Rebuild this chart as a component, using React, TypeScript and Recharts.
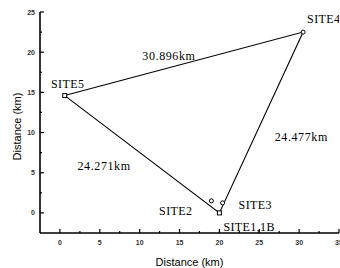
import { ScatterChart, Scatter, XAxis, YAxis, Label } from 'recharts';

const siteNames = ['SITE5', 'SITE4', 'SITE1,1B', 'SITE2', 'SITE3'];
const siteX = [0.6, 30.5, 20, 19, 20.4];
const siteY = [14.6, 22.5, 0, 1.5, 1.25];
const siteMarks = ['square', 'circle', 'square', 'circle', 'circle'];

// triangle SITE5 -> SITE4 -> SITE1 -> SITE5
const loopOrder = [0, 1, 2, 0];
const edgeLabels = ['30.896km', '24.477km', '24.271km'];

const xTicks = [0, 2.5, 5, 7.5, 10, 12.5, 15, 17.5, 20, 22.5, 25, 27.5, 30, 32.5, 35];
const yTicks = [0, 2.5, 5, 7.5, 10, 12.5, 15, 17.5, 20, 22.5, 25];

const sites = siteNames.map((name, i) => ({ name, x: siteX[i], y: siteY[i], mark: siteMarks[i] }));
const loop = loopOrder.map((i) => ({ x: siteX[i], y: siteY[i] }));
const edges = edgeLabels.map((text, i) => {
  const a = loopOrder[i];
  const b = loopOrder[i + 1];
  return { text, x: (siteX[a] + siteX[b]) / 2, y: (siteY[a] + siteY[b]) / 2 };
});

// pixel offsets of the text from its anchor
const siteLabelPos: Record<string, { dx: number; dy: number; anchor: string }> = {
  SITE5: { dx: 3, dy: -12, anchor: 'middle' },
  SITE4: { dx: 4, dy: -13, anchor: 'start' },
  'SITE1,1B': { dx: 4, dy: 14, anchor: 'start' },
  SITE2: { dx: -19, dy: 10, anchor: 'end' },
  SITE3: { dx: 16, dy: 2, anchor: 'start' },
};
const edgeLabelPos: Record<string, { dx: number; dy: number }> = {
  '30.896km': { dx: -15, dy: -8 },
  '24.477km': { dx: 40, dy: 14 },
  '24.271km': { dx: -38, dy: 12 },
};

const serif = '"Liberation Serif", "DejaVu Serif", serif';
const sans = '"Liberation Sans", Arial, sans-serif';

const SiteShape = (props: any) => {
  const { cx, cy, payload } = props;
  const pos = siteLabelPos[payload.name];
  return (
    <g>
      {payload.mark === 'square' ? (
        <rect x={cx - 2} y={cy - 2} width={4} height={4} fill="#fff" stroke="#000" strokeWidth={1} />
      ) : (
        <circle cx={cx} cy={cy} r={2} fill="#fff" stroke="#000" strokeWidth={1} />
      )}
      <text
        x={cx + pos.dx}
        y={cy + pos.dy}
        textAnchor={pos.anchor as any}
        dominantBaseline="central"
        fontFamily={serif}
        fontSize={12}
        letterSpacing={0.4}
        fill="#000"
      >
        {payload.name}
      </text>
    </g>
  );
};

const EdgeText = (props: any) => {
  const { cx, cy, payload } = props;
  const pos = edgeLabelPos[payload.text];
  return (
    <text
      x={cx + pos.dx}
      y={cy + pos.dy}
      textAnchor="middle"
      dominantBaseline="central"
      fontFamily={serif}
      fontSize={12}
      letterSpacing={0.6}
      fill="#000"
    >
      {payload.text}
    </text>
  );
};

const XTick = (props: any) => {
  const { x, y, payload } = props;
  const major = payload.value % 5 === 0;
  return (
    <g>
      <line x1={x} y1={y} x2={x} y2={y - (major ? 4 : 2)} stroke="#000" strokeWidth={1.2} />
      {major && (
        <text x={x} y={y + 9} textAnchor="middle" dominantBaseline="central" fontFamily={sans} fontSize={7} fontWeight="bold" fill="#333">
          {payload.value}
        </text>
      )}
    </g>
  );
};

const YTick = (props: any) => {
  const { x, y, payload } = props;
  const major = payload.value % 5 === 0;
  return (
    <g>
      <line x1={x} y1={y} x2={x + (major ? 4 : 2)} y2={y} stroke="#000" strokeWidth={1.2} />
      {major && (
        <text x={x - 5} y={y} textAnchor="end" dominantBaseline="central" fontFamily={sans} fontSize={7} fontWeight="bold" fill="#333">
          {payload.value}
        </text>
      )}
    </g>
  );
};

const Empty = () => <g />;

export default function App() {
  return (
    <div style={{ position: 'absolute', left: 0, top: 0, background: '#fff' }}>
      <ScatterChart width={340} height={268} margin={{ top: 12, right: 1, bottom: 0, left: 0 }}>
        <XAxis
          type="number"
          dataKey="x"
          domain={[-2.5, 35]}
          ticks={xTicks}
          interval={0}
          height={35}
          tickSize={0}
          tickMargin={0}
          tick={<XTick />}
          axisLine={{ stroke: '#000', strokeWidth: 1.6 }}
          allowDataOverflow
        >
          <Label value="Distance (km)" position="insideBottom" offset={2} fontFamily={sans} fontSize={11} fill="#000" />
        </XAxis>
        <YAxis
          type="number"
          dataKey="y"
          domain={[-2.5, 25]}
          ticks={yTicks}
          interval={0}
          width={40}
          tickSize={0}
          tickMargin={0}
          tick={<YTick />}
          axisLine={{ stroke: '#000', strokeWidth: 1.6 }}
          allowDataOverflow
        >
          <Label value="Distance (km)" angle={-90} position="insideLeft" offset={17} dy={4} fontFamily={sans} fontSize={11} fill="#000" style={{ textAnchor: 'middle' }} />
        </YAxis>
        <Scatter data={loop} line={{ stroke: '#000', strokeWidth: 1.1 }} lineType="joint" shape={<Empty />} isAnimationActive={false} />
        <Scatter data={edges} shape={<EdgeText />} isAnimationActive={false} />
        <Scatter data={sites} shape={<SiteShape />} isAnimationActive={false} />
      </ScatterChart>
    </div>
  );
}
